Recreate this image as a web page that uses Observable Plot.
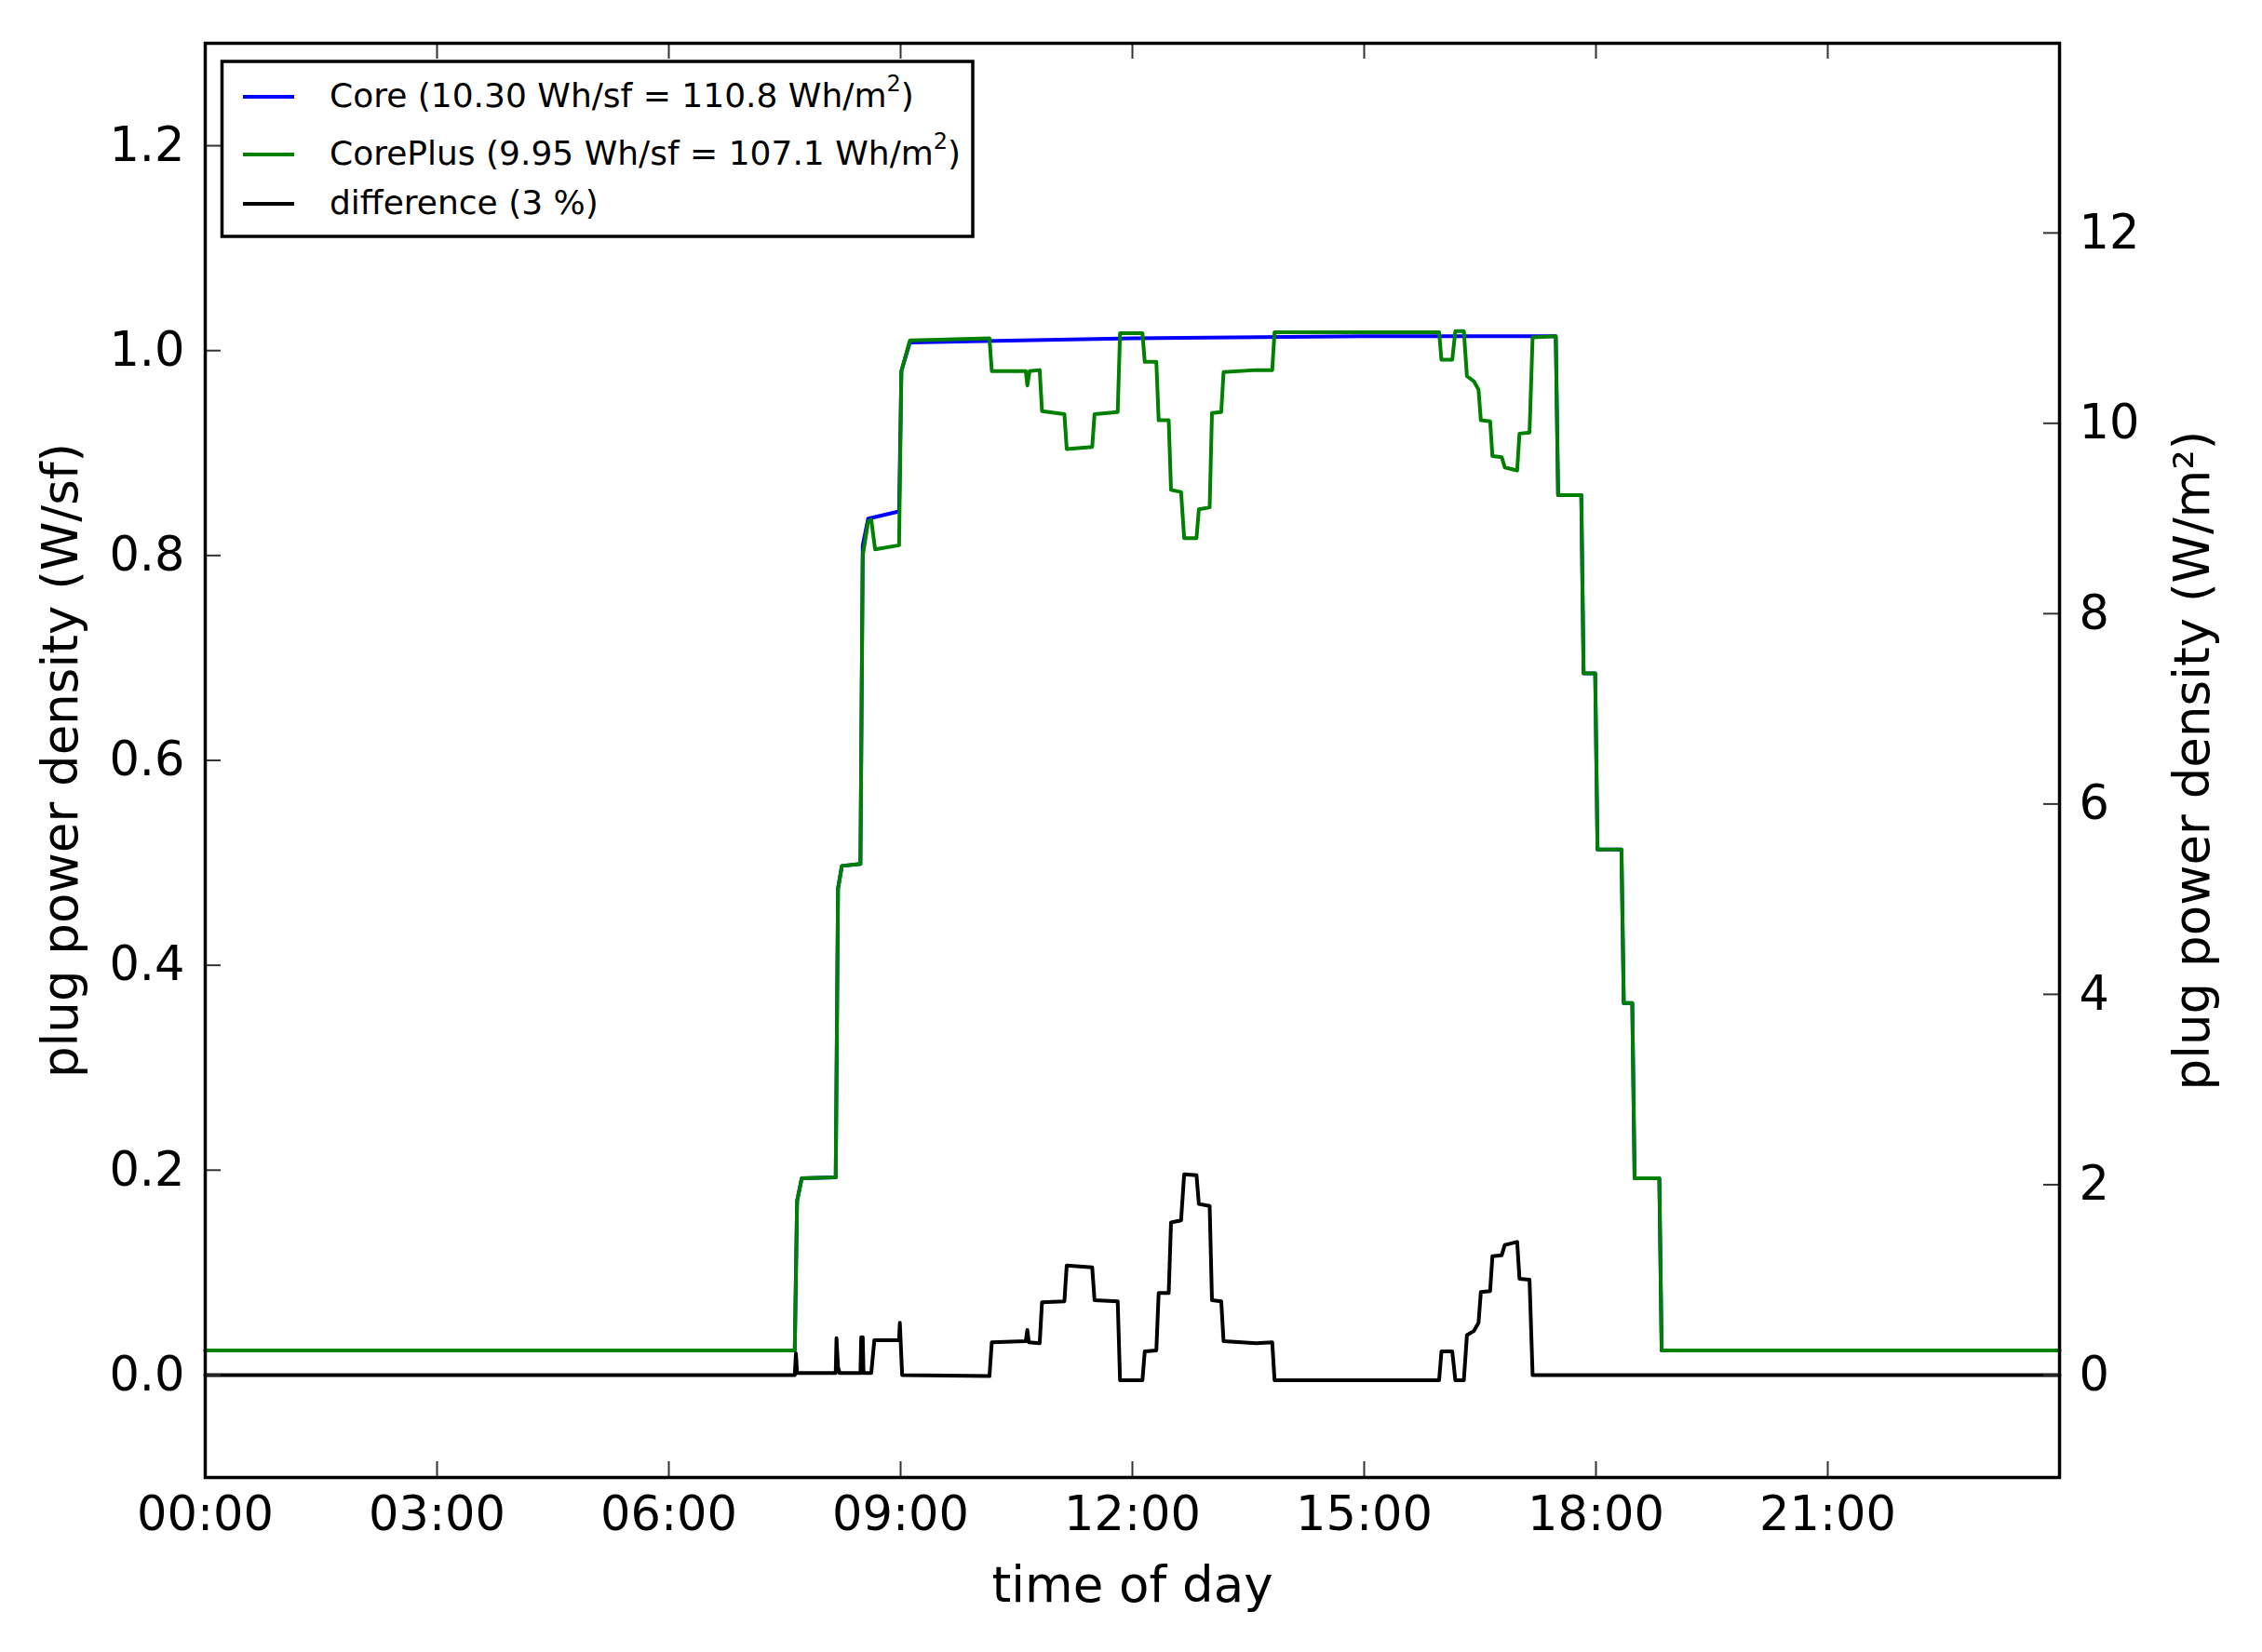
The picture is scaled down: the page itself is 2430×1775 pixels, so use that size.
<!DOCTYPE html>
<html>
<head>
<meta charset="utf-8">
<script src="https://cdn.jsdelivr.net/npm/d3@7"></script>
<script src="https://cdn.jsdelivr.net/npm/@observablehq/plot@0.6"></script>
<style>
  html, body { margin: 0; padding: 0; background: #fff; }
  #chart svg { display: block; }
</style>
</head>
<body>
<div id="chart"></div>
<script>
// ---- data: [hour of day, plug power density W/sf] ----
const coreProfile = [
  [0,0.024],[7.63,0.024],[7.66,0.17],[7.72,0.192],[8.16,0.193],[8.19,0.475],[8.24,0.497],[8.48,0.499],
  [8.51,0.81],[8.58,0.836],[8.98,0.843],[9.01,0.98],[9.12,1.008],[12.0,1.012],[15.0,1.014],[17.48,1.014],
  [17.51,0.859],[17.81,0.859],[17.84,0.685],[17.99,0.685],[18.02,0.513],[18.33,0.513],[18.36,0.363],
  [18.47,0.363],[18.50,0.192],[18.82,0.192],[18.85,0.024],[24,0.024]
];
const corePlusProfile = [
  [0,0.024],[7.63,0.024],[7.66,0.17],[7.72,0.192],[8.16,0.193],[8.19,0.475],[8.24,0.497],[8.48,0.499],
  [8.51,0.80],[8.58,0.833],[8.62,0.835],[8.67,0.806],[8.98,0.810],[9.01,0.98],[9.12,1.010],[10.15,1.012],
  [10.18,0.980],[10.62,0.980],[10.64,0.966],[10.67,0.980],[10.80,0.981],[10.83,0.941],[11.12,0.938],
  [11.15,0.904],[11.48,0.906],[11.51,0.938],[11.81,0.940],[11.84,1.017],[12.13,1.017],[12.16,0.989],
  [12.31,0.989],[12.34,0.932],[12.47,0.932],[12.50,0.864],[12.63,0.862],[12.67,0.817],[12.83,0.817],
  [12.86,0.845],[13.00,0.847],[13.03,0.939],[13.15,0.940],[13.18,0.979],[13.60,0.981],[13.81,0.981],
  [13.84,1.018],[15.97,1.018],[16.00,0.991],[16.14,0.991],[16.18,1.019],[16.29,1.019],[16.33,0.975],
  [16.42,0.970],[16.48,0.962],[16.51,0.932],[16.63,0.931],[16.66,0.897],[16.78,0.896],[16.82,0.886],
  [16.98,0.883],[17.01,0.919],[17.14,0.920],[17.18,1.013],[17.48,1.014],[17.51,0.859],[17.81,0.859],
  [17.84,0.685],[17.99,0.685],[18.02,0.513],[18.33,0.513],[18.36,0.363],[18.47,0.363],[18.50,0.192],
  [18.82,0.192],[18.85,0.024],[24,0.024]
];
const differenceProfile = [
  [0,0],[7.63,0],[7.645,0.021],[7.66,0.002],[8.16,0.002],[8.17,0.036],[8.19,0.008],[8.21,0.002],
  [8.48,0.002],[8.49,0.037],[8.50,0.002],[8.51,0.037],[8.52,0.002],[8.62,0.002],[8.66,0.034],[8.98,0.034],
  [8.99,0.051],[9.02,0.0],[10.15,-0.001],[10.18,0.032],[10.62,0.033],[10.64,0.044],[10.66,0.032],
  [10.80,0.031],[10.83,0.071],[11.12,0.072],[11.15,0.107],[11.48,0.105],[11.51,0.073],[11.81,0.072],
  [11.84,-0.005],[12.13,-0.005],[12.16,0.023],[12.31,0.024],[12.34,0.080],[12.47,0.080],[12.50,0.149],
  [12.63,0.151],[12.67,0.196],[12.83,0.195],[12.86,0.167],[13.00,0.165],[13.03,0.073],[13.15,0.072],
  [13.18,0.033],[13.60,0.031],[13.81,0.032],[13.84,-0.005],[15.97,-0.005],[16.00,0.023],[16.14,0.023],
  [16.18,-0.005],[16.29,-0.005],[16.33,0.039],[16.42,0.043],[16.48,0.051],[16.51,0.081],[16.63,0.082],
  [16.66,0.116],[16.78,0.117],[16.82,0.127],[16.98,0.130],[17.01,0.094],[17.14,0.093],[17.18,0.0],[24,0]
];
const seriesNames = ["Core", "CorePlus", "difference"];
const seriesColors = ["#0000ff", "#008000", "#000000"];
const legendMain = ["Core (10.30 Wh/sf = 110.8 Wh/m", "CorePlus (9.95 Wh/sf = 107.1 Wh/m", "difference (3 %)"];
const legendSup = ["2", "2", ""];
const legendTail = [")", ")", ""];
const xTickHours = [0, 3, 6, 9, 12, 15, 18, 21];
const xTickLabels = ["00:00", "03:00", "06:00", "09:00", "12:00", "15:00", "18:00", "21:00"];
const leftTicks = [0, 0.2, 0.4, 0.6, 0.8, 1.0, 1.2];
const rightTicks = [0, 2, 4, 6, 8, 10, 12];      // W/m²
const SQFT_PER_SQM = 10.7639;
const xLabel = "time of day";
const yLabelLeft = "plug power density (W/sf)";
const yLabelRight = "plug power density (W/m²)";

// ---- build tables ----
const toRows = (arr) => arr.map(([t, v]) => ({t, v}));
const seriesRows = [coreProfile, corePlusProfile, differenceProfile].map(toRows);
const rightTickPos = rightTicks.map(v => v / SQFT_PER_SQM);

const W = 2430, H = 1775;
const mL = 220, mR = 218, mT = 46, mB = 188;
const plotW = W - mL - mR, plotH = H - mT - mB;
const tick = 17;
const tickStroke = "#333";
const lineW = 4;

const chart = Plot.plot({
  width: W, height: H,
  marginLeft: mL, marginRight: mR, marginTop: mT, marginBottom: mB,
  style: {fontFamily: "DejaVu Sans", fontSize: "51px", background: "#fff", color: "#000"},
  x: {type: "linear", domain: [0, 24]},
  y: {type: "linear", domain: [-0.1, 1.3]},
  marks: [
    ...seriesRows.map((rows, i) => Plot.line(rows, {x: "t", y: "v", stroke: seriesColors[i], strokeWidth: lineW, strokeLinejoin: "round"})),
    // inward ticks
    Plot.tickX(xTickHours, {x: d => d, insetTop: plotH - tick, stroke: tickStroke, strokeWidth: 2}),
    Plot.tickX(xTickHours, {x: d => d, insetBottom: plotH - tick, stroke: tickStroke, strokeWidth: 2}),
    Plot.tickY(leftTicks, {y: d => d, insetRight: plotW - tick, stroke: tickStroke, strokeWidth: 2}),
    Plot.tickY(rightTickPos, {y: d => d, insetLeft: plotW - tick, stroke: tickStroke, strokeWidth: 2}),
    Plot.frame({stroke: "#000", strokeWidth: 3.5}),
    // tick labels
    Plot.axisX(xTickHours, {anchor: "bottom", tickSize: 0, tickPadding: 20, tickFormat: (d) => xTickLabels[xTickHours.indexOf(d)], label: null, fontSize: 51}),
    Plot.axisY(leftTicks, {anchor: "left", tickSize: 0, tickPadding: 22, tickFormat: d3.format(".1f"), label: null, fontSize: 51}),
    Plot.axisY(rightTickPos, {anchor: "right", tickSize: 0, tickPadding: 21, tickFormat: (d) => String(Math.round(d * SQFT_PER_SQM)), label: null, fontSize: 51}),
    // axis titles
    Plot.text([xLabel], {text: d => d, frameAnchor: "bottom", textAnchor: "middle", lineAnchor: "bottom", dy: 133, fontSize: 53}),
    Plot.text([yLabelLeft], {text: d => d, frameAnchor: "left", textAnchor: "middle", lineAnchor: "middle", rotate: -90, dx: -154, fontSize: 53}),
    Plot.text([yLabelRight], {text: d => d, frameAnchor: "right", textAnchor: "middle", lineAnchor: "middle", rotate: -90, dx: 144, fontSize: 53})
  ]
});

// ---- legend ----
const svg = d3.select(chart);
const lg = svg.append("g").attr("font-family", "DejaVu Sans").attr("font-size", 36).attr("text-anchor", "start");
lg.append("rect").attr("x", 238.5).attr("y", 66).attr("width", 806.5).attr("height", 188)
  .attr("fill", "#fff").attr("stroke", "#000").attr("stroke-width", 3.5);
const rowLineY = [104, 166, 219];
const rowBase = [115, 177, 230];
seriesNames.forEach((name, i) => {
  lg.append("line").attr("x1", 261).attr("x2", 316).attr("y1", rowLineY[i]).attr("y2", rowLineY[i])
    .attr("stroke", seriesColors[i]).attr("stroke-width", lineW);
  const t = lg.append("text").attr("x", 354).attr("y", rowBase[i]).attr("fill", "#000").attr("text-anchor", "start");
  t.append("tspan").text(legendMain[i]);
  if (legendSup[i]) {
    t.append("tspan").attr("dy", -17).attr("font-size", 24).text(legendSup[i]);
    t.append("tspan").attr("dy", 17).text(legendTail[i]);
  }
});

document.getElementById("chart").appendChild(chart);
</script>
</body>
</html>
